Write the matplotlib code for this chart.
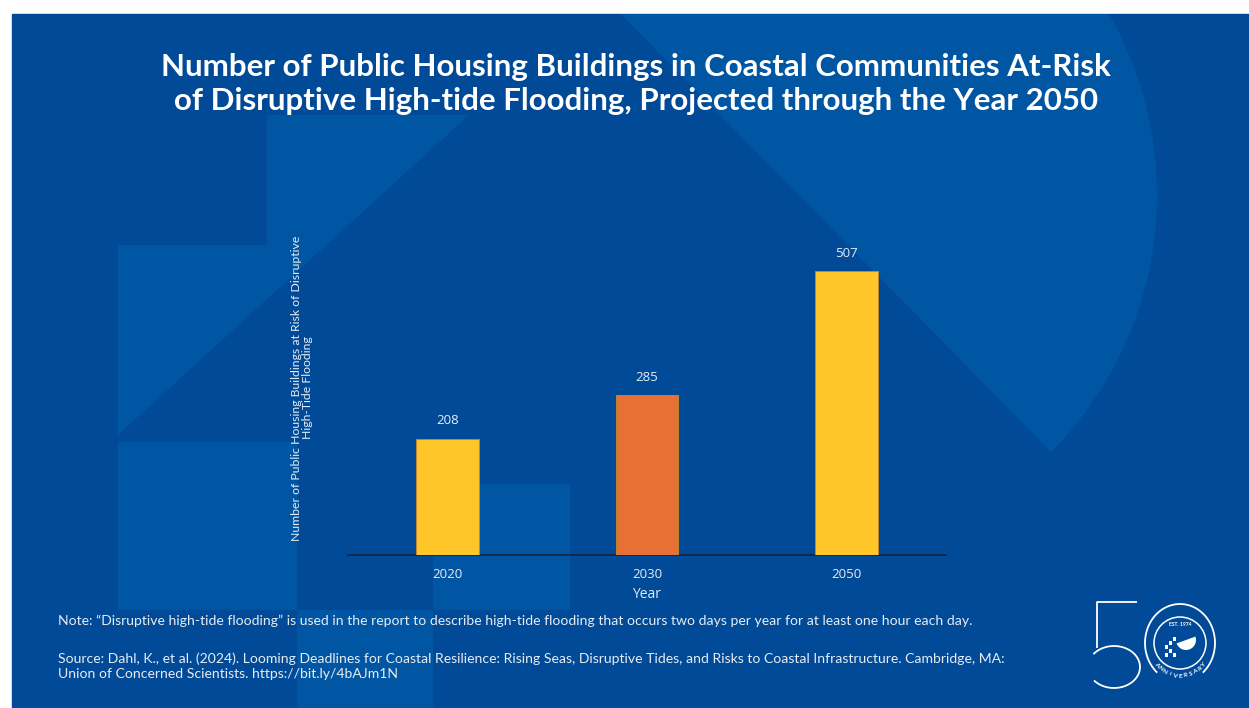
import numpy as np
import matplotlib.pyplot as plt
from matplotlib.patches import Rectangle, Polygon, Circle, Wedge

# data
years = ['2020', '2030', '2050']
buildings = [208, 285, 507]
bar_colors = ['#FFC629', '#E87034', '#FFC629']

title = ('Number of Public Housing Buildings in Coastal Communities At-Risk\n'
         'of Disruptive High-tide Flooding, Projected through the Year 2050')
ylabel = ('Number of Public Housing Buildings at Risk of Disruptive\n'
          'High-Tide Flooding')
note = ('Note: \u201cDisruptive high-tide flooding\u201d is used in the report to describe '
        'high-tide flooding that occurs two days per year for at least one hour each day.')
source = ('Source: Dahl, K., et al. (2024). Looming Deadlines for Coastal Resilience: Rising Seas, '
          'Disruptive Tides, and Risks to Coastal Infrastructure. Cambridge, MA:\n'
          'Union of Concerned Scientists. https://bit.ly/4bAJm1N')

W, H = 1249, 708
dark = '#004A98'
light = '#0056A3'
txt = '#E6ECF4'

fig = plt.figure(figsize=(W / 100, H / 100), dpi=100, facecolor='white')

# background panel in pixel coordinates
bg = fig.add_axes([0, 0, 1, 1])
bg.set_xlim(0, W)
bg.set_ylim(H, 0)
bg.axis('off')
bg.add_patch(Rectangle((12, 14), W - 12, H - 14, color=dark, zorder=0))

# chimney / roof piece
bg.add_patch(Polygon([(118, 245), (267, 245), (267, 115), (469, 115), (118, 435)],
                     closed=True, color=light, lw=0, zorder=1))
# pixel blocks
for x0, y0, x1, y1 in [(118, 442, 297, 610), (433, 484, 570, 610), (297, 610, 433, 708)]:
    bg.add_patch(Rectangle((x0, y0), x1 - x0, y1 - y0, color=light, lw=0, zorder=1))

# dome piece: diagonal edge + circular arc
A = np.array([1109., 14.])
B = np.array([1157., 200.])
C = np.array([1051., 452.])
M = np.array([[2 * (B - A)[0], 2 * (B - A)[1]], [2 * (C - A)[0], 2 * (C - A)[1]]])
rhs = np.array([B @ B - A @ A, C @ C - A @ A])
cen = np.linalg.solve(M, rhs)
r = np.hypot(*(A - cen))
a0 = np.arctan2(A[1] - cen[1], A[0] - cen[0])
a1 = np.arctan2(C[1] - cen[1], C[0] - cen[0])
if a1 < a0:
    a1 += 2 * np.pi
tt = np.linspace(a0, a1, 80)
arc = np.column_stack([cen[0] + r * np.cos(tt), cen[1] + r * np.sin(tt)])
leaf = np.vstack([[[621, 14]], arc])
bg.add_patch(Polygon(leaf, closed=True, color=light, lw=0, zorder=1))

# title
fig.text(636 / W, 1 - 84 / H, title, ha='center', va='center', color='white',
         fontsize=22.5, fontweight='bold', family='Lato', linespacing=1.28)

# chart
ax = fig.add_axes([348 / W, 1 - 555 / H, 598 / W, 336 / H])
ax.patch.set_alpha(0)
x = np.arange(len(years))
bars = ax.bar(x, buildings, width=0.315, color=bar_colors,
              edgecolor='#C98A2A', linewidth=0.6, zorder=3)
for b, v in zip(bars, buildings):
    ax.text(b.get_x() + b.get_width() / 2, v + 20, str(v), ha='center', va='bottom',
            color=txt, fontsize=9.5, family='Open Sans')
ax.set_xlim(-0.5, 2.5)
ax.set_ylim(0, 600)
ax.set_xticks(x)
ax.set_xticklabels(years, color=txt, fontsize=9.5, family='Open Sans')
ax.tick_params(axis='x', length=0, pad=9)
ax.set_yticks([])
for s in ['top', 'right', 'left']:
    ax.spines[s].set_visible(False)
ax.spines['bottom'].set_color('#17294A')
ax.spines['bottom'].set_linewidth(1.4)
ax.set_xlabel('Year', color=txt, fontsize=10, family='Open Sans', labelpad=5)
fig.text(302 / W, 1 - 388 / H, ylabel, rotation=90, ha='center', va='center',
         color=txt, fontsize=8.8, family='Lato', linespacing=1.05)

# note and source
fig.text(58 / W, 1 - 621 / H, note, ha='left', va='center', color=txt,
         fontsize=10.1, family='Lato')
fig.text(58 / W, 1 - 666.5 / H, source, ha='left', va='center', color=txt,
         fontsize=10.1, family='Lato', linespacing=1.3)

# 50th anniversary mark
lw = 1.3
bg.plot([1137, 1097, 1097], [602, 602, 648], color='white', lw=lw, solid_capstyle='butt')
t5 = np.radians(np.linspace(-140, 138, 60))
bg.plot(1114 + 26 * np.cos(t5), 667 + 21 * np.sin(t5), color='white', lw=lw)
cx, cy = 1180, 643
to = np.radians(np.linspace(-48, 228, 90))
bg.plot(cx + 35 * np.cos(to), cy - 39 * np.sin(to), color='white', lw=lw)
bg.add_patch(Circle((cx, cy), 26, fill=False, ec='white', lw=1.1))
bg.text(cx, 625, 'EST. 1974', ha='center', va='center', color='white',
        fontsize=3.6, fontweight='bold', family='Lato')
word = 'ANNIVERSARY'
ang = np.linspace(222, 318, len(word))
for ch, a in zip(word, ang):
    ra = np.radians(a)
    bg.text(cx + 32 * np.cos(ra), cy - 33 * np.sin(ra), ch, rotation=a - 270,
            ha='center', va='center', color='white', fontsize=4.6,
            fontweight='bold', family='Lato')
bg.add_patch(Wedge((1186, 640), 10, -20, 160, color='white', lw=0))
for px, py in [(1165, 645), (1169, 641), (1173, 637), (1169, 649), (1173, 653), (1165, 653)]:
    bg.add_patch(Rectangle((px, py), 3.5, 3.5, color='white', lw=0))

fig.savefig('out.png', dpi=100, facecolor='white')
